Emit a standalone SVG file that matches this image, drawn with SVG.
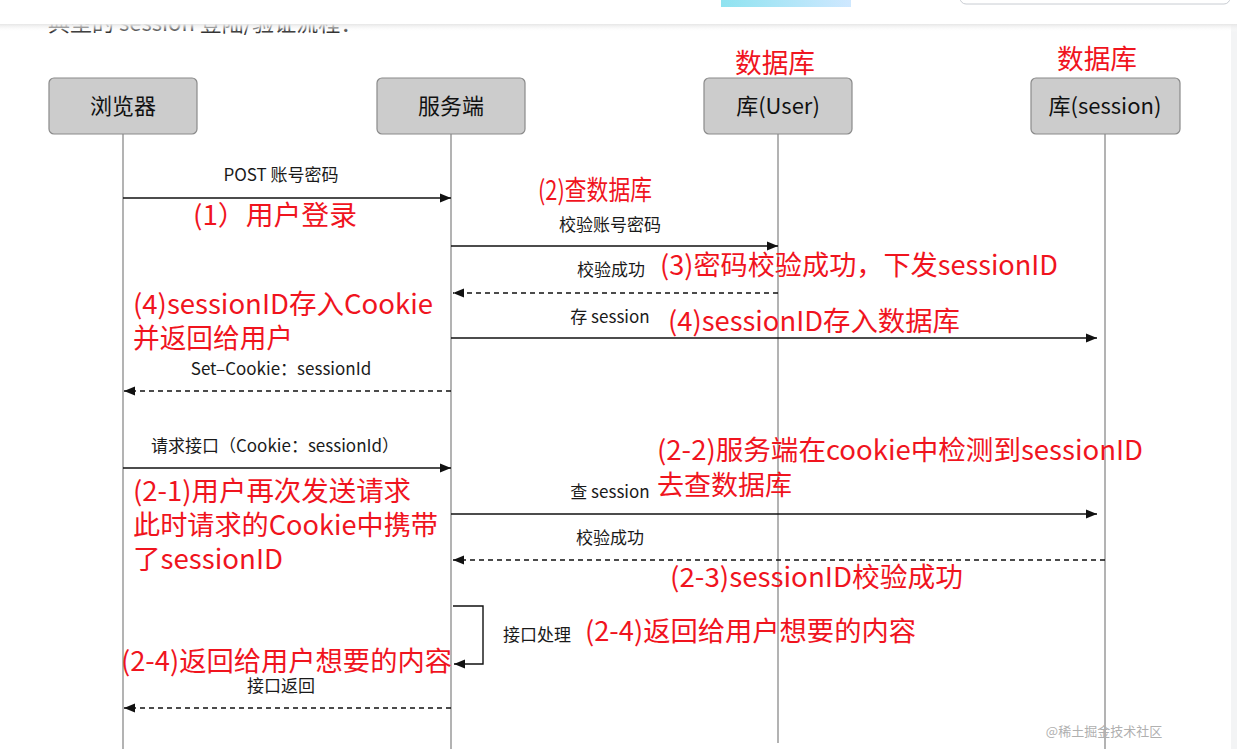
<svg xmlns="http://www.w3.org/2000/svg" width="1237" height="749" viewBox="0 0 1237 749">
<defs>
<style>
.box{fill:#cccccc;stroke:#8a8a8a;stroke-width:1.2}
.bl{font-family:"Noto Sans CJK SC","Noto Sans",sans-serif;font-size:22px;fill:#111;text-anchor:middle}
.life{stroke:#9a9a9a;stroke-width:1.5;fill:none}
.msg{stroke:#111;stroke-width:1.4;fill:none}
.dash{stroke-dasharray:5 4}
.ml{font-family:"Noto Sans CJK SC","Noto Sans",sans-serif;font-size:17px;fill:#1a1a1a;text-anchor:middle}
.red{font-family:"Noto Sans CJK SC","Noto Sans",sans-serif;font-size:27px;fill:#f0141e}
</style>
<marker id="ah" markerUnits="userSpaceOnUse" markerWidth="12" markerHeight="10" refX="11" refY="5" orient="auto">
<path d="M0,0.5 L11,5 L0,9.5 z" fill="#111"/>
</marker>
<linearGradient id="sh" x1="0" y1="0" x2="0" y2="1">
<stop offset="0" stop-color="#e6e6e6"/>
<stop offset="1" stop-color="#ffffff" stop-opacity="0"/>
</linearGradient>
<linearGradient id="ban" x1="0" y1="0" x2="1" y2="0">
<stop offset="0" stop-color="#8fe3f0"/>
<stop offset="1" stop-color="#cfe8ff"/>
</linearGradient>
</defs>
<rect width="1237" height="749" fill="#ffffff"/>
<rect x="1231" y="24" width="6" height="725" fill="#f3f4f5"/>
<text x="48" y="31" font-family="Noto Sans CJK SC,sans-serif" font-size="22" fill="#333">典型的 session 登陆/验证流程：</text>
<rect x="0" y="0" width="1237" height="24" fill="#ffffff"/>
<rect x="0" y="24" width="1237" height="8" fill="url(#sh)"/>
<rect x="721" y="0" width="130" height="7" fill="url(#ban)"/>
<rect x="960" y="-20" width="270" height="24" rx="6" fill="none" stroke="#c8ccd2" stroke-width="1"/>

<g id="lifelines">
<line class="life" x1="123" y1="134" x2="123" y2="749"/>
<line class="life" x1="451" y1="134" x2="451" y2="749"/>
<line class="life" x1="778" y1="134" x2="778" y2="743"/>
<line class="life" x1="1105" y1="134" x2="1105" y2="749"/>
</g>

<g id="browser">
<rect class="box" x="49" y="78" width="148" height="56" rx="5"/>
<text class="bl" x="123" y="114">浏览器</text>
</g>
<g id="server">
<rect class="box" x="377" y="78" width="148" height="56" rx="5"/>
<text class="bl" x="451" y="114">服务端</text>
</g>
<g id="userdb">
<text class="red" x="735" y="73" textLength="80" lengthAdjust="spacingAndGlyphs">数据库</text>
<rect class="box" x="704" y="78" width="148" height="56" rx="5"/>
<text class="bl" x="778" y="114">库(User)</text>
</g>
<g id="sessiondb">
<text class="red" x="1057" y="69" textLength="80" lengthAdjust="spacingAndGlyphs">数据库</text>
<rect class="box" x="1031" y="78" width="149" height="56" rx="5"/>
<text class="bl" x="1105" y="114">库(session)</text>
</g>

<g id="connectors">
<line class="msg" x1="123" y1="198" x2="451" y2="198" marker-end="url(#ah)"/>
<line class="msg" x1="451" y1="246" x2="778" y2="246" marker-end="url(#ah)"/>
<line class="msg dash" x1="778" y1="293" x2="453" y2="293" marker-end="url(#ah)"/>
<line class="msg" x1="451" y1="338" x2="1097" y2="338" marker-end="url(#ah)"/>
<line class="msg dash" x1="451" y1="391" x2="124" y2="391" marker-end="url(#ah)"/>
<line class="msg" x1="123" y1="468" x2="451" y2="468" marker-end="url(#ah)"/>
<line class="msg" x1="451" y1="514" x2="1097" y2="514" marker-end="url(#ah)"/>
<line class="msg dash" x1="1105" y1="560" x2="453" y2="560" marker-end="url(#ah)"/>
<path class="msg" d="M453,606 H483 V664 H454" marker-end="url(#ah)"/>
<line class="msg dash" x1="451" y1="708" x2="124" y2="708" marker-end="url(#ah)"/>
</g>

<g id="labels">
<text class="ml" x="281" y="181">POST 账号密码</text>
<text class="ml" x="610" y="231">校验账号密码</text>
<text class="ml" x="611" y="276">校验成功</text>
<text class="ml" x="610" y="323">存 session</text>
<text class="ml" x="281" y="375">Set–Cookie：sessionId</text>
<text class="ml" x="275" y="452">请求接口（Cookie：sessionId）</text>
<text class="ml" x="610" y="498">查 session</text>
<text class="ml" x="610" y="544">校验成功</text>
<text class="ml" x="537" y="641">接口处理</text>
<text class="ml" x="281" y="692">接口返回</text>
</g>

<g id="annotations">
<text class="red" x="193" y="225" textLength="164" lengthAdjust="spacingAndGlyphs">(1）用户登录</text>
<text class="red" x="538" y="200" textLength="114" lengthAdjust="spacingAndGlyphs">(2)查数据库</text>
<text class="red" x="660" y="275" textLength="398" lengthAdjust="spacingAndGlyphs">(3)密码校验成功，下发sessionID</text>
<text class="red" x="133" y="314" textLength="300" lengthAdjust="spacingAndGlyphs">(4)sessionID存入Cookie</text>
<text class="red" x="133" y="348" textLength="160" lengthAdjust="spacingAndGlyphs">并返回给用户</text>
<text class="red" x="668" y="331" textLength="292" lengthAdjust="spacingAndGlyphs">(4)sessionID存入数据库</text>
<text class="red" x="657" y="460" textLength="486" lengthAdjust="spacingAndGlyphs">(2-2)服务端在cookie中检测到sessionID</text>
<text class="red" x="657" y="495" textLength="135" lengthAdjust="spacingAndGlyphs">去查数据库</text>
<text class="red" x="133" y="501" textLength="278" lengthAdjust="spacingAndGlyphs">(2-1)用户再次发送请求</text>
<text class="red" x="133" y="535" textLength="305" lengthAdjust="spacingAndGlyphs">此时请求的Cookie中携带</text>
<text class="red" x="133" y="569" textLength="150" lengthAdjust="spacingAndGlyphs">了sessionID</text>
<text class="red" x="670" y="587" textLength="293" lengthAdjust="spacingAndGlyphs">(2-3)sessionID校验成功</text>
<text class="red" x="585" y="641" textLength="331" lengthAdjust="spacingAndGlyphs">(2-4)返回给用户想要的内容</text>
<text class="red" x="121" y="671" textLength="331" lengthAdjust="spacingAndGlyphs">(2-4)返回给用户想要的内容</text>
</g>
<text x="1104" y="736" font-family="Noto Sans CJK SC,sans-serif" font-size="13" fill="#b0b0b0" text-anchor="middle">@稀土掘金技术社区</text>
</svg>
